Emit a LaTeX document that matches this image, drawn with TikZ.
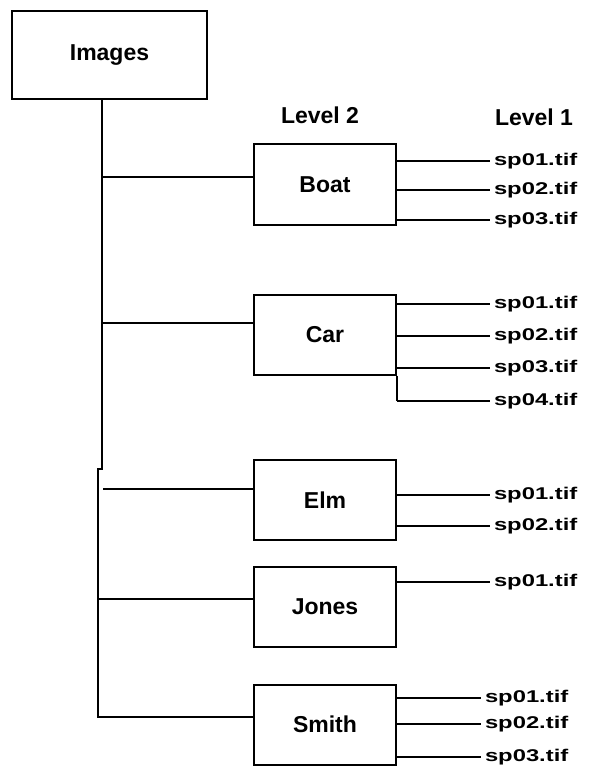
\documentclass[tikz,border=0pt]{standalone}
\usepackage{fontspec}
\setmainfont{Liberation Sans}
\newfontfamily\leaffont[FakeStretch=1.4]{Liberation Sans}

\newcommand*{\xbox}{325}
\newcommand*{\xtrunk}{102}
\newcommand*{\xleaf}{490}

\begin{document}
\begin{tikzpicture}[x=1pt,y=-1pt,line width=2pt,
	folder/.style={draw,minimum width=142pt,minimum height=80pt,font=\fontsize{23}{26}\selectfont\bfseries},
	file/.style={anchor=west,inner sep=3pt,font=\leaffont\fontsize{17}{20}\selectfont\bfseries},
	level/.style={font=\fontsize{23}{26}\selectfont\bfseries}]

	\useasboundingbox (0,0) rectangle (589,767);

	\node[folder,minimum width=195pt,minimum height=88pt] (images) at (109.5,55) {Images};
	\node[level] (lvltwo) at (320,115) {Level 2};
	\node[level] (lvlone) at (534,117) {Level 1};

	\node[folder] (boat) at (\xbox,184.5) {Boat};
	\node[folder] (car) at (\xbox,334.5) {Car};
	\node[folder] (elm) at (\xbox,500) {Elm};
	\node[folder] (jones) at (\xbox,607) {Jones};
	\node[folder] (smith) at (\xbox,724.5) {Smith};

	% trunk
	\coordinate (jog) at (\xtrunk,469);
	\coordinate (jogb) at (98,469);
	\coordinate (smith-j) at (98,717);
	\draw (images.south -| jog) -- (jog) -- (jogb) -- (smith-j) -- (smith-j -| smith.west);

	% branches
	\foreach \n/\x/\y in {boat/\xtrunk/177, car/\xtrunk/323, elm/103/489, jones/98/599} {
		\coordinate (\n-j) at (\x,\y);
		\draw (\n-j) -- (\n-j -| \n.west);
	}

	% files
	\foreach \n/\x/\ys in {boat/\xleaf/{161,190,220}, car/\xleaf/{304,336,368,401},
		elm/\xleaf/{495,526}, jones/\xleaf/{582}, smith/481/{698,724,757}} {
		\foreach \y [count=\i] in \ys {
			\node[file] (\n\i) at (\x,\y) {sp0\i.tif};
			\draw (\n\i.west -| \n.east) -- (\n\i.west);
		}
	}
	\draw (car.south east) -- (car4.west -| car.east);

\end{tikzpicture}
\end{document}
